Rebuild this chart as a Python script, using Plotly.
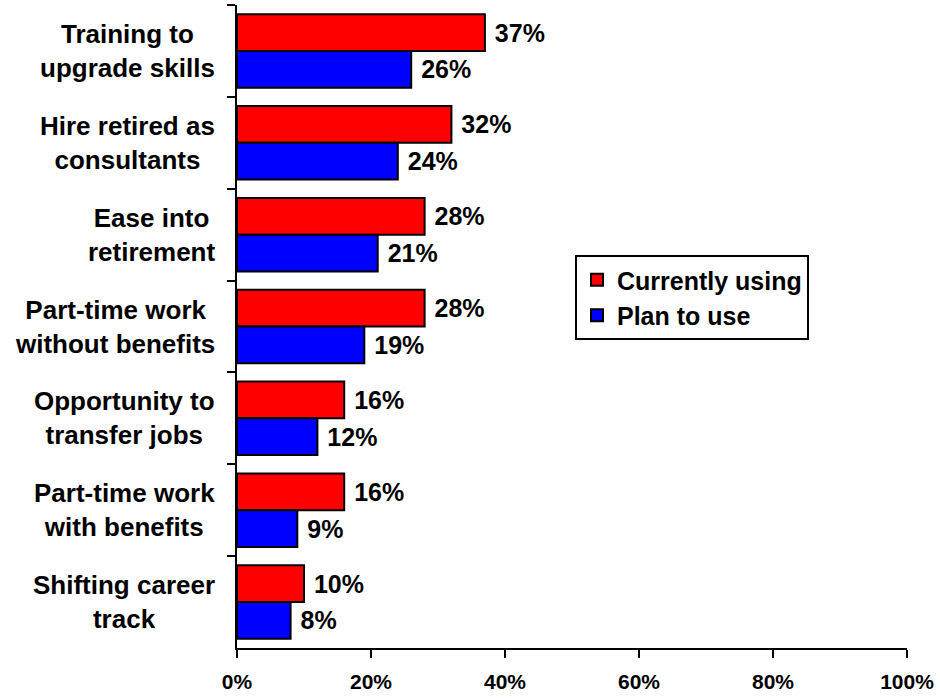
import plotly.graph_objects as go

# Retention strategies, listed top to bottom
categories = [
    "Training to<br>upgrade skills",
    "Hire retired as<br>consultants",
    "Ease into<br>retirement",
    "Part-time work<br>without benefits",
    "Opportunity to<br>transfer jobs",
    "Part-time work<br>with benefits",
    "Shifting career<br>track",
]
currently_using = [37, 32, 28, 28, 16, 16, 10]
plan_to_use = [26, 24, 21, 19, 12, 9, 8]
x_ticks = [0, 20, 40, 60, 80, 100]
x_tick_labels = ["0%", "20%", "40%", "60%", "80%", "100%"]

FONT = "Arial, 'Liberation Sans', sans-serif"
bold = dict(family=FONT, size=25, color="black", weight="bold")
cat_font = dict(family=FONT, size=26, color="black", weight="bold")

fig = go.Figure()
for name, vals, color in [
    ("Currently using", currently_using, "#ff0000"),
    ("Plan to use", plan_to_use, "#0000ff"),
]:
    fig.add_trace(go.Bar(
        name=name,
        y=categories,
        x=vals,
        orientation="h",
        marker=dict(color=color, line=dict(color="black", width=2)),
        text=["\u00a0" + f"{v}%" for v in vals],
        textposition="outside",
        textfont=bold,
        cliponaxis=False,
        constraintext="none",
    ))

# Category labels: block right-aligned next to the axis, lines centred
for c in categories:
    fig.add_annotation(
        x=0, xref="paper", y=c, yref="y",
        text=c, showarrow=False,
        xanchor="right", align="center", xshift=-20,
        font=cat_font,
    )

fig.update_layout(
    width=940, height=698,
    margin=dict(l=237, r=33, t=5, b=50),
    paper_bgcolor="white", plot_bgcolor="white",
    barmode="group", bargap=0.2, bargroupgap=0,
    showlegend=True,
    legend=dict(
        x=(575 - 237) / 670, y=(648 - 255) / 643,
        xanchor="left", yanchor="top",
        bordercolor="black", borderwidth=2, bgcolor="white",
        font=bold, tracegroupgap=0,
    ),
    xaxis=dict(
        range=[0, 100], tickvals=x_ticks, ticktext=x_tick_labels,
        showgrid=False, zeroline=False,
        showline=True, linecolor="black", linewidth=2,
        ticks="outside", ticklen=8, tickwidth=2, tickcolor="black",
        ticklabelstandoff=6,
        tickfont=dict(family=FONT, size=21, color="black", weight="bold"),
    ),
    yaxis=dict(
        autorange="reversed", type="category",
        showticklabels=False, showgrid=False, zeroline=False,
        showline=True, linecolor="black", linewidth=2,
        ticks="outside", tickson="boundaries", ticklen=8, tickwidth=2,
        tickcolor="black",
    ),
)

fig.write_html("out.html")
